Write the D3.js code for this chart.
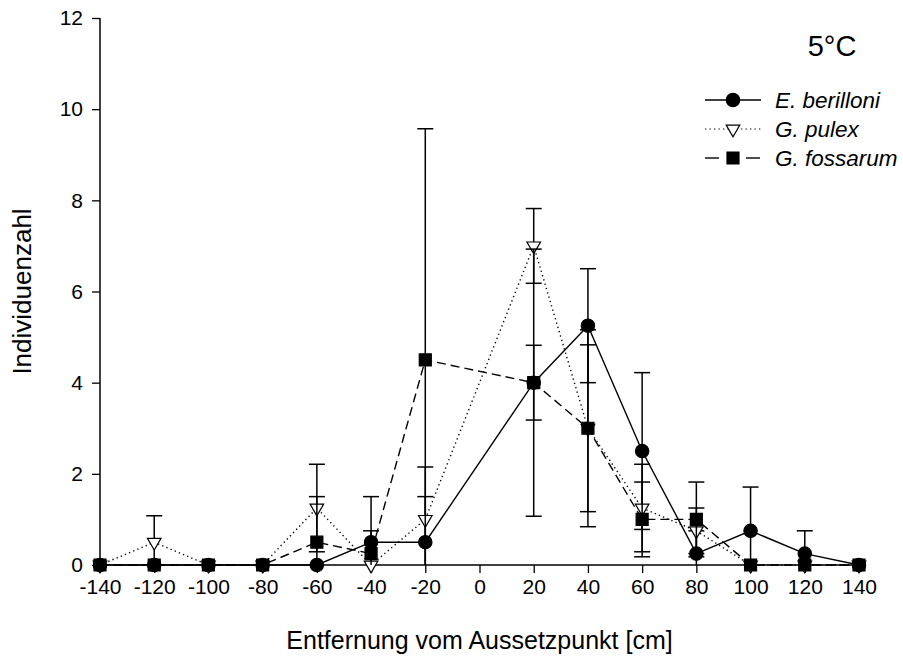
<!DOCTYPE html>
<html>
<head>
<meta charset="utf-8">
<script src="https://cdn.jsdelivr.net/npm/d3@7"></script>
<style>
  body { margin: 0; background: #fff; }
  svg { display: block; font-family: "Liberation Sans", Arial, sans-serif; }
</style>
</head>
<body>
<svg id="chart" width="903" height="659"></svg>
<script>
// ---- data ----
const distances = [-140, -120, -100, -80, -60, -40, -20, 20, 40, 60, 80, 100, 120, 140];
const xTicks = [-140, -120, -100, -80, -60, -40, -20, 0, 20, 40, 60, 80, 100, 120, 140];
const yTicks = [0, 2, 4, 6, 8, 10, 12];

const berilloniMean = [0, 0, 0, 0, 0, 0.5, 0.5, 4, 5.25, 2.5, 0.25, 0.75, 0.25, 0];
const berilloniSD   = [0, 0, 0, 0, 0, 1.0, 1.0, 0.82, 1.25, 1.72, 0.5, 0.96, 0.5, 0];

const pulexMean = [0, 0.5, 0, 0, 1.25, 0, 1.0, 7, 3, 1.25, 0.75, 0, 0, 0];
const pulexSD   = [0, 0.58, 0, 0, 0.96, 0, 1.15, 0.82, 2.16, 0.96, 0.5, 0, 0, 0];

const fossarumMean = [0, 0, 0, 0, 0.5, 0.25, 4.5, 4, 3, 1.0, 1.0, 0, 0, 0];
const fossarumSD   = [0, 0, 0, 0, 1.0, 0.5, 5.07, 2.93, 1.83, 0.82, 0.82, 0, 0, 0];

const seriesNames = ["E. berilloni", "G. pulex", "G. fossarum"];

// ---- layout ----
const svg = d3.select("#chart");
const x = d3.scaleLinear().domain([-140, 140]).range([100, 859]);
const y = d3.scaleLinear().domain([0, 12]).range([565, 18]);

const series = [
  { name: seriesNames[0], mean: berilloniMean, sd: berilloniSD, dash: null, symbol: d3.symbolCircle, size: 140, fill: "#000", rotate: 0 },
  { name: seriesNames[1], mean: pulexMean, sd: pulexSD, dash: "1.3,3.2", symbol: d3.symbolTriangle, size: 80, fill: "#fff", rotate: 180 },
  { name: seriesNames[2], mean: fossarumMean, sd: fossarumSD, dash: "9,5", symbol: d3.symbolSquare, size: 144, fill: "#000", rotate: 0 }
];

svg.append("defs").append("clipPath").attr("id", "plotclip")
  .append("rect").attr("x", 90).attr("y", 0).attr("width", 800).attr("height", y(0));

const fmt = d => String(d);  // plain hyphen-minus
const xAxis = d3.axisBottom(x).tickValues(xTicks).tickSize(8).tickPadding(6).tickFormat(fmt);
const yAxis = d3.axisLeft(y).tickValues(yTicks).tickSize(8).tickPadding(9).tickFormat(fmt);

const gx = svg.append("g").attr("transform", `translate(0,${y(0)})`).call(xAxis);
const gy = svg.append("g").attr("transform", `translate(${x(-140)},0)`).call(yAxis);
[gx, gy].forEach(g => {
  g.select(".domain").attr("stroke", "#000").attr("stroke-width", 1.5);
  g.selectAll(".tick line").attr("stroke", "#000").attr("stroke-width", 1.3);
  g.selectAll(".tick text").attr("fill", "#000").style("font-size", "21px")
    .style("font-family", "Liberation Sans, Arial, sans-serif");
});
gx.select(".domain").attr("d", `M${x(-140)},0H${x(140)}`);
gy.select(".domain").attr("d", `M0,${y(12)}V${y(0)}`);

svg.append("text").attr("x", (x(-140) + x(140)) / 2).attr("y", 649)
  .attr("text-anchor", "middle").style("font-size", "25px").text("Entfernung vom Aussetzpunkt [cm]");
svg.append("text").attr("transform", `translate(31,${(y(0) + y(12)) / 2}) rotate(-90)`)
  .attr("text-anchor", "middle").style("font-size", "26px").text("Individuenzahl");

const line = d3.line().x(d => x(d.x)).y(d => y(d.y));
series.forEach(s => {
  const pts = distances.map((d, i) => ({ x: d, y: s.mean[i], sd: s.sd[i] }));
  const g = svg.append("g");
  g.append("path").datum(pts).attr("d", line).attr("fill", "none")
    .attr("stroke", "#000").attr("stroke-width", 1.4)
    .attr("stroke-dasharray", s.dash);
  const eb = g.append("g").attr("clip-path", "url(#plotclip)");
  const withErr = pts.filter(p => p.sd > 0);
  eb.selectAll("line.v").data(withErr).enter().append("line")
    .attr("x1", p => x(p.x)).attr("x2", p => x(p.x))
    .attr("y1", p => y(p.y + p.sd)).attr("y2", p => y(p.y - p.sd))
    .attr("stroke", "#000").attr("stroke-width", 1.5);
  const caps = [];
  withErr.forEach(p => { caps.push({ x: p.x, v: p.y + p.sd }); caps.push({ x: p.x, v: p.y - p.sd }); });
  eb.selectAll("line.c").data(caps.filter(c => c.v >= 0)).enter().append("line")
    .attr("x1", c => x(c.x) - 8).attr("x2", c => x(c.x) + 8)
    .attr("y1", c => y(c.v)).attr("y2", c => y(c.v))
    .attr("stroke", "#000").attr("stroke-width", 1.5);
  g.selectAll("path.m").data(pts).enter().append("path")
    .attr("d", d3.symbol().type(s.symbol).size(s.size))
    .attr("transform", p => `translate(${x(p.x)},${y(p.y)}) rotate(${s.rotate})`)
    .attr("fill", s.fill).attr("stroke", "#000").attr("stroke-width", 1.2);
});

svg.append("text").attr("x", 832).attr("y", 56).attr("text-anchor", "middle")
  .style("font-size", "29px").text("5°C");

const legendY = [100, 129, 158];
series.forEach((s, i) => {
  const g = svg.append("g").attr("transform", `translate(0,${legendY[i]})`);
  if (s.dash === "9,5") {
    g.append("line").attr("x1", 705).attr("x2", 719).attr("y1", 0).attr("y2", 0)
      .attr("stroke", "#000").attr("stroke-width", 1.4);
    g.append("line").attr("x1", 746).attr("x2", 760).attr("y1", 0).attr("y2", 0)
      .attr("stroke", "#000").attr("stroke-width", 1.4);
  } else {
    g.append("line").attr("x1", 705).attr("x2", 761).attr("y1", 0).attr("y2", 0)
      .attr("stroke", "#000").attr("stroke-width", s.dash ? 1.2 : 1.4)
      .attr("stroke-dasharray", s.dash);
  }
  g.append("path").attr("d", d3.symbol().type(s.symbol).size(s.size))
    .attr("transform", `translate(733,0) rotate(${s.rotate})`)
    .attr("fill", s.fill).attr("stroke", "#000").attr("stroke-width", 1.2);
  g.append("text").attr("x", 775).attr("y", 8).style("font-size", "22.5px")
    .style("font-style", "italic").text(s.name);
});
</script>
</body>
</html>
